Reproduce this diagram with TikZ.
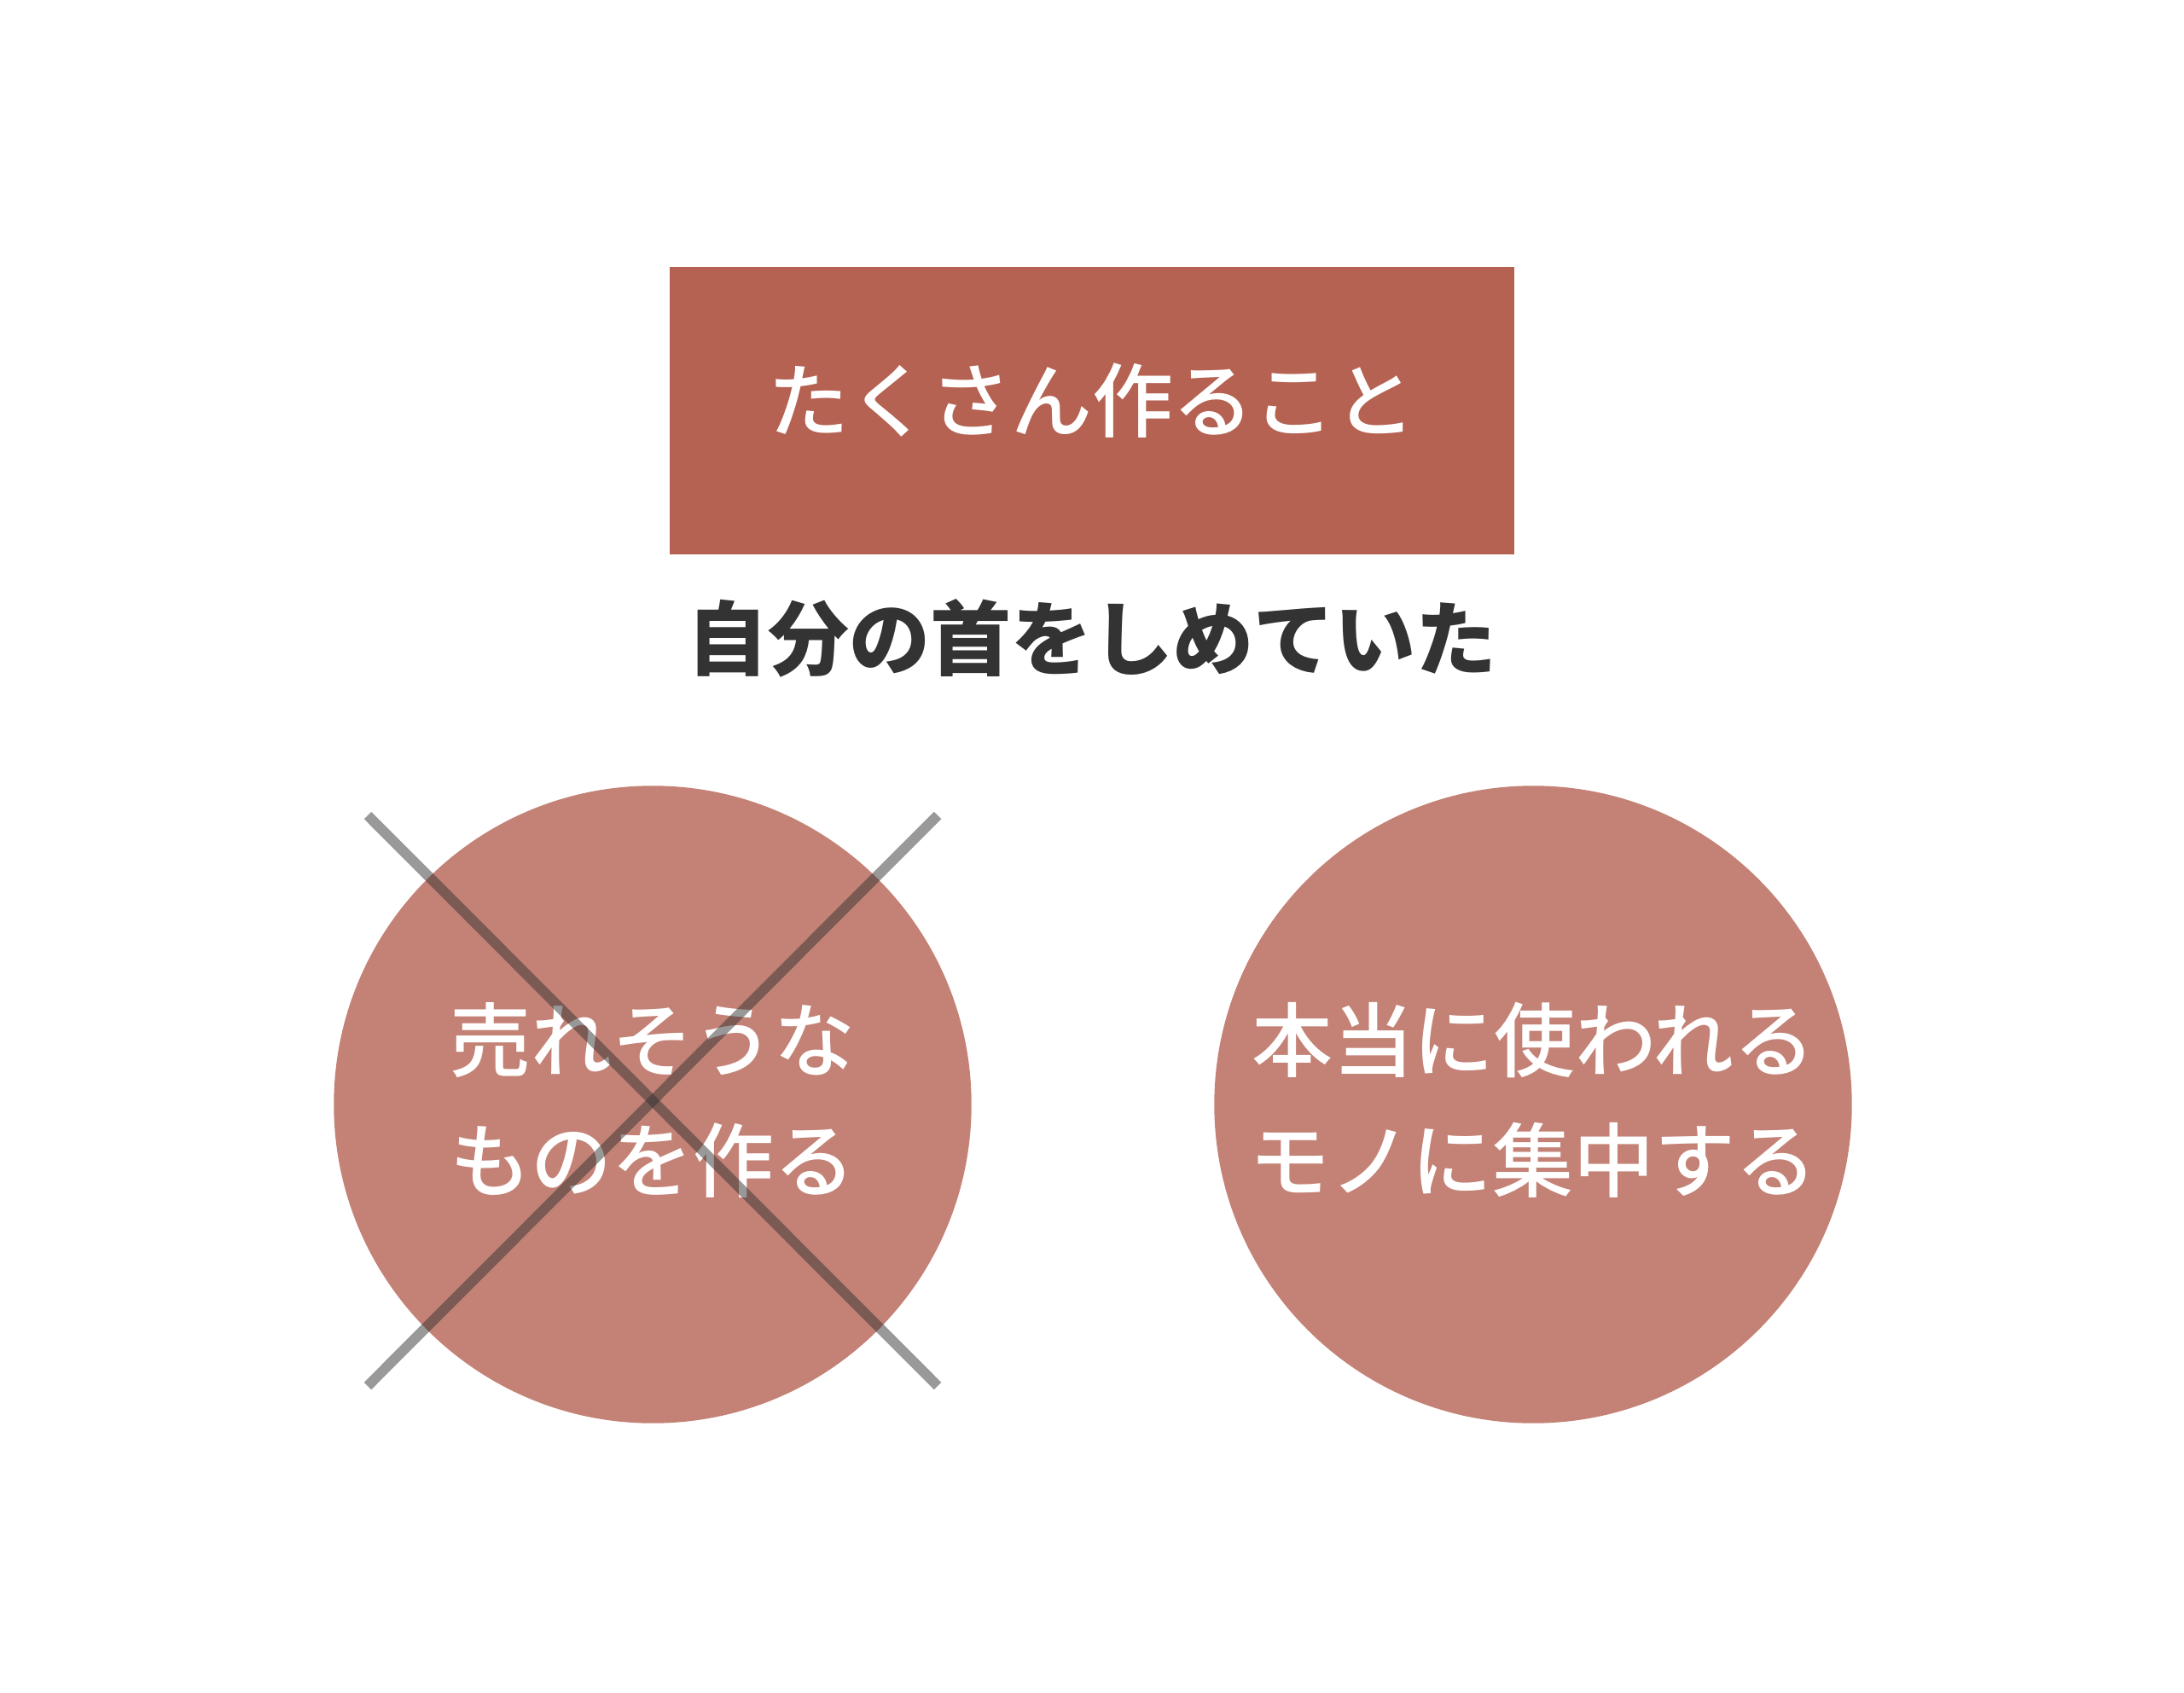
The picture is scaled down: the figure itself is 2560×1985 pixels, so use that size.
\documentclass[tikz,border=0pt]{standalone}
\usepackage{fontspec}
\setmainfont{Noto Sans CJK JP}
\newfontfamily\medfont{Noto Sans CJK JP Medium}
\usepackage{tikz}
\usetikzlibrary{calc}
\definecolor{boxred}{HTML}{B56252}
\definecolor{discred}{HTML}{C48276}
\definecolor{inkgray}{HTML}{333333}
\tikzset{t/.style={font=\fontsize{27}{40}\selectfont}}
\tikzset{disc/.style={circle,fill=discred,minimum size=7.47cm,inner sep=0pt}}
\tikzset{cross/.style={draw=inkgray,line width=0.12cm,opacity=0.5}}

\begin{document}
\begin{tikzpicture}[x=0.01cm,y=-0.01cm]
  \useasboundingbox (0,0) rectangle (2560,1985);
  \fill[boxred] (785,313) rectangle (1775,650);
  \node[t,text=white,font=\fontsize{27}{40}\selectfont\medfont] (many) at (1280,470) {たくさん作ること};
  \node[t,text=inkgray,font=\fontsize{27}{40}\selectfont\bfseries] (choke) at (1280,748) {自分の首をしめていた};
  \node[disc] (sell) at (765,1295) {};
  \node[disc] (use) at (1797,1295) {};
  \node[t,text=white,align=center,font=\fontsize{27}{40}\selectfont\medfont] (selltext) at (765,1290) {売れそうな\\ものを作る};
  \node[t,text=white,align=center,font=\fontsize{27}{40}\selectfont\medfont] (usetext) at (1797,1290) {本当に使われる\\モノに集中する};
  % cross over the left disc
  \coordinate (xa) at ($(sell)+(-334,-339)$);
  \coordinate (xb) at ($(sell)+(334,330)$);
  \coordinate (xc) at ($(sell)+(334,-339)$);
  \coordinate (xd) at ($(sell)+(-334,330)$);
  \draw[cross] (xa) -- (xb);
  \draw[cross] (xc) -- (xd);
\end{tikzpicture}
\end{document}
